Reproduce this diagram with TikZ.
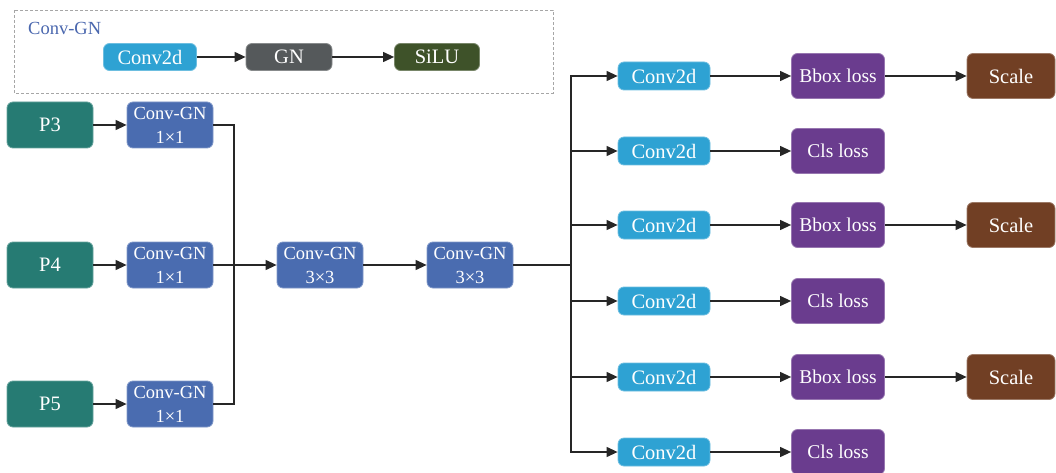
\documentclass[tikz,border=0pt]{standalone}
\usepackage{fontspec}
\setmainfont{Liberation Serif}
\usetikzlibrary{arrows.meta}
\definecolor{cteal}{HTML}{267B73}
\definecolor{cblue}{HTML}{4A6CB0}
\definecolor{csky}{HTML}{2EA2D3}
\definecolor{cgray}{HTML}{55595B}
\definecolor{colive}{HTML}{3E5229}
\definecolor{cpurple}{HTML}{6A3C8E}
\definecolor{cbrown}{HTML}{713F24}
\definecolor{clabel}{HTML}{4A67AE}
\tikzset{
  blk/.style={rounded corners=6pt, text=white, align=center, inner sep=0pt,
    font=\fontsize{20.5}{24}\selectfont, line width=0.8pt},
  pbox/.style={blk, fill=cteal, draw=cteal!70!white, minimum width=86pt, minimum height=46pt},
  gnbox/.style={blk, fill=cblue, draw=cblue!70!white, minimum width=86pt, minimum height=46pt,
    font=\fontsize{18.5}{24}\selectfont},
  convbox/.style={blk, fill=csky, draw=csky!70!white, minimum width=92pt, minimum height=28pt},
  lossbox/.style={blk, fill=cpurple, draw=cpurple!70!white, minimum width=93pt, minimum height=45pt,
    font=\fontsize{19.5}{24}\selectfont},
  scalebox/.style={blk, fill=cbrown, draw=cbrown!70!white, minimum width=88pt, minimum height=45pt},
  wire/.style={line width=1.2pt, draw=black!85},
  arr/.style={wire, -{Triangle[length=11pt,width=10pt]}},
}
\begin{document}
\begin{tikzpicture}[x=1pt,y=-1pt]
\useasboundingbox (0,0) rectangle (1056,473);

% legend: the Conv-GN block
\draw[draw=black!35, line width=0.8pt, dash pattern=on 3pt off 2pt] (14,10) rectangle (553,93);
\node[anchor=west, text=clabel, font=\fontsize{18.5}{22}\selectfont, inner sep=0pt] (lgtitle) at (28,28) {Conv-GN};
\node[convbox, minimum width=93pt, minimum height=27pt] (lconv) at (150,57) {Conv2d};
\node[blk, fill=cgray, draw=cgray!70!white, minimum width=86pt, minimum height=27pt] (lgn) at (289,57) {GN};
\node[blk, fill=colive, draw=colive!70!white, minimum width=85pt, minimum height=27pt] (lsilu) at (437,57) {SiLU};
\draw[arr] (lconv) -- (lgn);
\draw[arr] (lgn) -- (lsilu);

% feature inputs and 1x1 projections
\node[pbox] (p3) at (50,125) {P3};
\node[pbox] (p4) at (50,265) {P4};
\node[pbox] (p5) at (50,404) {P5};
\node[gnbox] (c3) at (170,125) {Conv-GN\\1×1};
\node[gnbox] (c4) at (170,265) {Conv-GN\\1×1};
\node[gnbox] (c5) at (170,404) {Conv-GN\\1×1};
\draw[arr] (p3) -- (c3);
\draw[arr] (p4) -- (c4);
\draw[arr] (p5) -- (c5);

% shared 3x3 tower
\node[gnbox] (g1) at (320,265) {Conv-GN\\3×3};
\node[gnbox] (g2) at (470,265) {Conv-GN\\3×3};
\coordinate (j1) at (234,265);
\draw[wire] (c3.east) -| (j1);
\draw[wire] (c5.east) -| (j1);
\draw[arr] (c4) -- (g1);
\draw[arr] (g1) -- (g2);

% prediction heads
\coordinate (j2) at (571,265);
\draw[wire] (g2.east) -- (j2);
\foreach \i/\y/\lab in {1/76/Bbox loss,2/151/Cls loss,3/225/Bbox loss,4/301/Cls loss,5/377/Bbox loss,6/452/Cls loss}{
  \node[convbox] (d\i) at (664,\y) {Conv2d};
  \node[lossbox] (l\i) at (838,\y) {\lab};
  \draw[arr] (j2) |- (d\i.west);
  \draw[arr] (d\i) -- (l\i);
}
\foreach \i in {1,3,5}{
  \node[scalebox] (s\i) at (1011,0 |- l\i) {Scale};
  \draw[arr] (l\i) -- (s\i);
}
\end{tikzpicture}
\end{document}
